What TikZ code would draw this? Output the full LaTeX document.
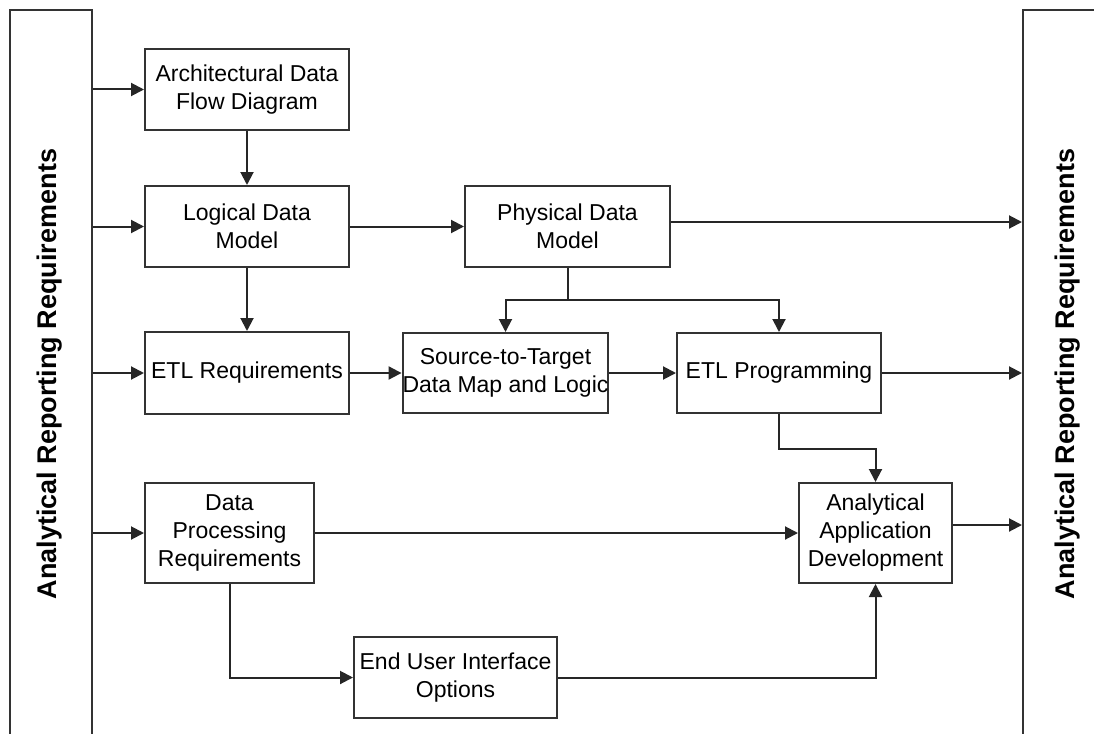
\documentclass[tikz,border=0pt]{standalone}
\usepackage{fontspec}
\setmainfont{Liberation Sans}
\usetikzlibrary{arrows.meta}

\tikzstyle{blk} = [draw=black!80, line width=2pt, fill=white, inner sep=0pt, align=center, minimum height=81pt, minimum width=204pt, font=\fontsize{23}{28}\selectfont]
\tikzstyle{bar} = [draw=black!80, line width=2pt, inner sep=0pt, minimum width=82pt, minimum height=780pt, anchor=north west]
\tikzstyle{side} = [rotate=90, font=\fontsize{27}{32}\selectfont\bfseries]
\tikzstyle{flow} = [draw=black!85, line width=2pt, -{Triangle[length=13pt,width=13pt]}]
\tikzstyle{wire} = [draw=black!85, line width=2pt]

\begin{document}
\begin{tikzpicture}[x=1pt, y=-1pt]
\useasboundingbox (0,0) rectangle (1094,733);

% side bars
\node[bar] (lbar) at (9,9) {};
\node[bar, minimum width=120pt] (rbar) at (1022,9) {};
\node[side] (ltxt) at (50,374) {Analytical Reporting Requirements};
\node[side] (rtxt) at (1068,374) {Analytical Reporting Requirements};

% boxes
\node[blk] (arch) at (247,89.5) {Architectural Data\\Flow Diagram};
\node[blk] (logical) at (247,226.5) {Logical Data\\Model};
\node[blk, minimum width=205pt] (phys) at (567.5,226.5) {Physical Data\\Model};
\node[blk, minimum height=82pt] (etlreq) at (247,373) {ETL Requirements};
\node[blk, minimum width=203pt, minimum height=80pt] (src) at (505.5,373) {Source-to-Target\\Data Map and Logic};
\node[blk, minimum height=80pt] (etlp) at (779,373) {ETL Programming};
\node[blk, minimum width=169pt, minimum height=100pt] (dpr) at (229.5,533) {Data\\Processing\\Requirements};
\node[blk, minimum width=153pt, minimum height=100pt] (aad) at (875.5,533) {Analytical\\Application\\Development};
\node[blk, minimum width=203pt] (eui) at (455.5,677.5) {End User Interface\\Options};

% inputs from the left
\draw[flow] (lbar.east |- arch.west) -- (arch.west);
\draw[flow] (lbar.east |- logical.west) -- (logical.west);
\draw[flow] (lbar.east |- etlreq.west) -- (etlreq.west);
\draw[flow] (lbar.east |- dpr.west) -- (dpr.west);

% main flow
\draw[flow] (arch) -- (logical);
\draw[flow] (logical) -- (phys);
\draw[flow] (logical) -- (etlreq);
\draw[wire] (phys.south) -- ++(0,32) coordinate (split);
\draw[flow] (split) -| (src.north);
\draw[flow] (split) -| (etlp.north);
\draw[flow] (etlreq) -- (src);
\draw[flow] (src) -- (etlp);
\draw[flow] (etlp.south) -- ++(0,35) -| (aad.north);
\draw[flow] (dpr) -- (aad);
\draw[flow] (dpr.south) |- (eui.west);
\draw[flow] (eui.east) -| (aad.south);

% outputs to the right
\coordinate (physout) at ([yshift=4.5pt]phys.east);
\coordinate (aadout) at ([yshift=8pt]aad.east);
\draw[flow] (physout) -- (rbar.west |- physout);
\draw[flow] (etlp.east) -- (rbar.west |- etlp.east);
\draw[flow] (aadout) -- (rbar.west |- aadout);
\end{tikzpicture}
\end{document}
